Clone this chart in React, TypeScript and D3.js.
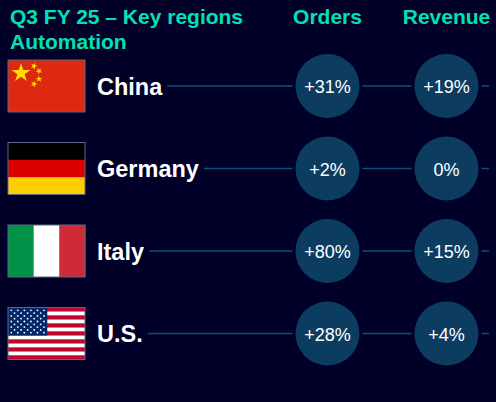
import { useEffect, useRef } from "react";
import * as d3 from "d3";

// data
const regions = ["China", "Germany", "Italy", "U.S."];
const flags = ["cn", "de", "it", "us"];
const orders = ["+31%", "+2%", "+80%", "+28%"];
const revenue = ["+19%", "0%", "+15%", "+4%"];
const columns = ["Orders", "Revenue"];
const titleLines = ["Q3 FY 25 – Key regions", "Automation"];

const W = 496;
const H = 402;
const BG = "#000028";
const TEAL = "#00e2b2";
const CIRCLE = "#0c3d61";
const LINE = "#0c5078";
const FONT = "Arial, 'Liberation Sans', sans-serif";

const FLAG_X = 8;
const FLAG_W = 77;
const FLAG_H = 52;
const R = 32;

function drawFlag(g, code) {
  if (code === "cn") {
    g.append("rect").attr("width", FLAG_W).attr("height", FLAG_H).attr("fill", "#de2910");
    const star = (cx, cy, size, rot) =>
      g
        .append("path")
        .attr("d", d3.symbol(d3.symbolStar, size)())
        .attr("transform", `translate(${cx},${cy}) rotate(${rot})`)
        .attr("fill", "#ffde00");
    star(13, 13, 110, 0);
    [
      [26, 6, 20],
      [31, 11, 45],
      [31, 19, 0],
      [26, 24, 20],
    ].forEach(([x, y, r]) => star(x, y, 14, r));
  } else if (code === "de") {
    ["#000000", "#dd0000", "#ffce00"].forEach((c, i) =>
      g.append("rect").attr("y", (i * FLAG_H) / 3).attr("width", FLAG_W).attr("height", FLAG_H / 3 + 0.5).attr("fill", c)
    );
  } else if (code === "it") {
    ["#009246", "#ffffff", "#ce2b37"].forEach((c, i) =>
      g.append("rect").attr("x", (i * FLAG_W) / 3).attr("width", FLAG_W / 3 + 0.5).attr("height", FLAG_H).attr("fill", c)
    );
  } else if (code === "us") {
    const sh = FLAG_H / 13;
    d3.range(13).forEach((i) =>
      g.append("rect").attr("y", i * sh).attr("width", FLAG_W).attr("height", sh + 0.2).attr("fill", i % 2 === 0 ? "#bf0a30" : "#ffffff")
    );
    const cw = FLAG_W * 0.51;
    const ch = sh * 7;
    g.append("rect").attr("width", cw).attr("height", ch).attr("fill", "#002868");
    d3.range(9).forEach((r) => {
      const n = r % 2 === 0 ? 6 : 5;
      d3.range(n).forEach((c) => {
        const x = (r % 2 === 0 ? cw / 12 : cw / 6) + (c * cw) / 6;
        const y = ((r + 1) * ch) / 10;
        g.append("circle").attr("cx", x).attr("cy", y).attr("r", 0.9).attr("fill", "#ffffff");
      });
    });
  }
  g.append("rect")
    .attr("width", FLAG_W)
    .attr("height", FLAG_H)
    .attr("fill", "none")
    .attr("stroke", "#5d6b80")
    .attr("stroke-width", 1);
}

export default function App() {
  const ref = useRef(null);

  useEffect(() => {
    const svg = d3.select(ref.current);
    svg.selectAll("*").remove();

    const y = d3.scalePoint().domain(regions).range([86, 333.5]);
    const x = d3.scalePoint().domain(columns).range([327.5, 446.5]);

    svg.append("rect").attr("width", W).attr("height", H).attr("fill", BG);

    // title
    svg
      .selectAll("text.title")
      .data(titleLines)
      .join("text")
      .attr("class", "title")
      .attr("x", 10)
      .attr("y", (d, i) => 24 + i * 25)
      .attr("font-family", FONT)
      .attr("font-weight", "bold")
      .attr("font-size", 21)
      .attr("fill", TEAL)
      .text((d) => d);

    // column headers
    svg
      .selectAll("text.col")
      .data(columns)
      .join("text")
      .attr("class", "col")
      .attr("x", (d) => x(d))
      .attr("y", 24)
      .attr("text-anchor", "middle")
      .attr("font-family", FONT)
      .attr("font-weight", "bold")
      .attr("font-size", 21)
      .attr("fill", TEAL)
      .text((d) => d);

    regions.forEach((region, i) => {
      const cy = y(region);
      const row = svg.append("g");

      // connector lines (drawn first, circles sit on top)
      const lines = row.append("g");

      const flag = row.append("g").attr("transform", `translate(${FLAG_X},${cy - FLAG_H / 2})`);
      drawFlag(flag, flags[i]);

      const label = row
        .append("text")
        .attr("x", 97)
        .attr("y", cy + 8.5)
        .attr("font-family", FONT)
        .attr("font-weight", "bold")
        .attr("font-size", 23.5)
        .attr("fill", "#ffffff")
        .text(region);

      const labelEnd = 97 + label.node().getComputedTextLength();
      const xo = x("Orders");
      const xr = x("Revenue");
      const segs = [
        [labelEnd + 5, xo - R - 3],
        [xo + R + 3, xr - R - 3],
        [xr + R + 3, 489],
      ];
      segs.forEach(([a, b]) =>
        lines
          .append("line")
          .attr("x1", a)
          .attr("x2", b)
          .attr("y1", cy)
          .attr("y2", cy)
          .attr("stroke", LINE)
          .attr("stroke-width", 1.5)
      );

      [
        ["Orders", orders[i]],
        ["Revenue", revenue[i]],
      ].forEach(([col, val]) => {
        row.append("circle").attr("cx", x(col)).attr("cy", cy).attr("r", R).attr("fill", CIRCLE);
        row
          .append("text")
          .attr("x", x(col))
          .attr("y", cy + 7)
          .attr("text-anchor", "middle")
          .attr("font-family", FONT)
          .attr("font-size", 18)
          .attr("fill", "#ffffff")
          .text(val);
      });
    });
  }, []);

  return (
    <svg
      ref={ref}
      width={W}
      height={H}
      style={{ position: "absolute", left: 0, top: 0, display: "block" }}
    />
  );
}
